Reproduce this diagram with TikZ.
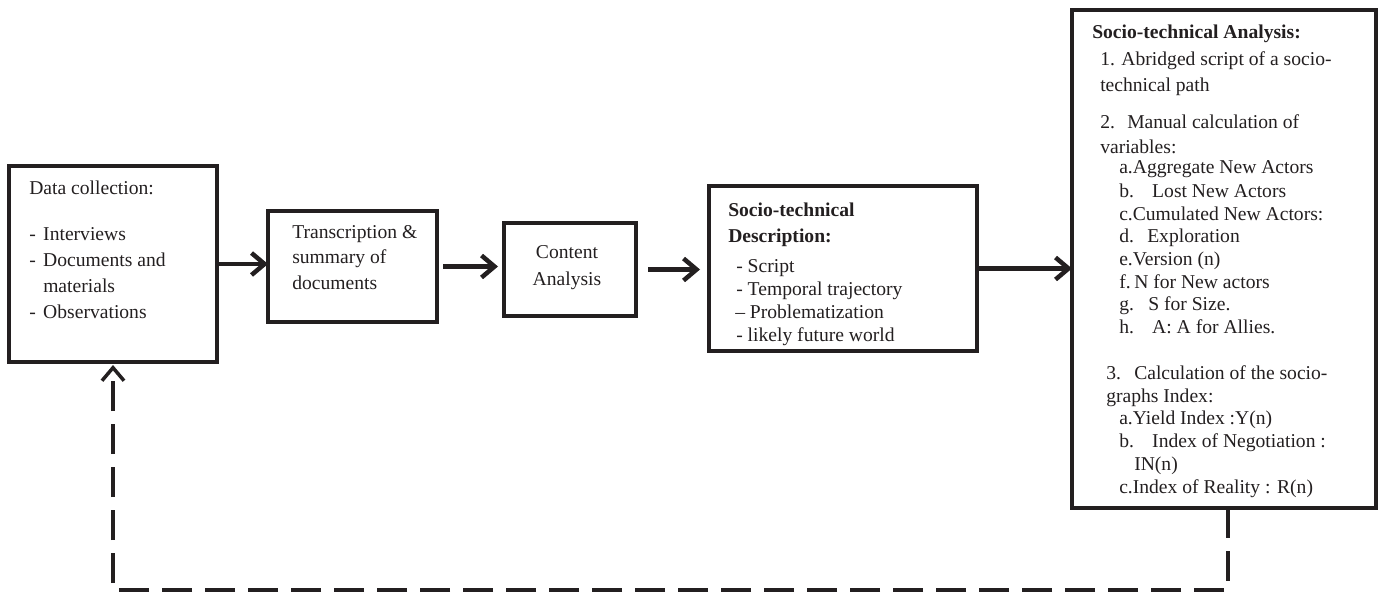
\documentclass[tikz,border=0pt]{standalone}
\usepackage{fontspec}
\setmainfont{Liberation Serif}
\usepackage{tikz}
\usetikzlibrary{arrows.meta,positioning}
\definecolor{ink}{HTML}{231F20}
\newcommand{\lab}[2]{\makebox[#1pt][l]{#2}}

\begin{document}
\begin{tikzpicture}[x=1pt,y=-1pt,->,>={Straight Barb[length=13pt,width=22pt]},
                    line width=4.5pt,color=ink]
  \tikzstyle{box}=[draw=ink,line width=3.5pt,rectangle,inner sep=0pt,outer sep=0pt]
  \tikzstyle{txt}=[inner sep=0pt,align=left,text=ink,anchor=base west]
  \useasboundingbox (0,0) rectangle (1379,594);

  \node[box,minimum width=208pt,minimum height=196pt] (DC) at (113,264) {};
  \node[box,minimum width=169pt,minimum height=111pt] (TS)
       [right=51pt of DC,yshift=-2.5pt] {};
  \node[box,minimum width=132pt,minimum height=93pt]  (CA)
       [right=67pt of TS,yshift=-3pt] {};
  \node[box,minimum width=268pt,minimum height=165pt] (DE)
       [right=73pt of CA,yshift=1pt] {};
  \node[box,minimum width=304pt,minimum height=498pt] (AN)
       [right=95pt of DE,yshift=9.5pt] {};

  % texts are placed by the baseline of their last line
  \node[txt,font=\fontsize{19.6}{26}\selectfont] (DCtext) at (27,318)
  {Data collection:\\[20pt]
   \lab{14}{-}Interviews\\
   \lab{14}{-}Documents and\\
   \hspace*{14pt}materials\\
   \lab{14}{-}Observations};
  \node[txt,font=\fontsize{19.6}{25.5}\selectfont] (TStext) at (290,289)
  {Transcription \&\\ summary of\\ documents};
  \node[txt,anchor=base,align=center,font=\fontsize{19.6}{27}\selectfont]
       (CAtext) at (567,285) {Content\\ Analysis};
  \node[txt,font=\fontsize{19.6}{23}\selectfont] (DEtext) at (726,341)
  {\textbf{Socio-technical}\\[3.5pt]
   \textbf{Description:}\\[6.5pt]
   \hspace*{8pt}- Script\\
   \hspace*{8pt}- Temporal trajectory\\
   \hspace*{7pt}-- Problematization\\
   \hspace*{8pt}- likely future world};
  \node[txt,font=\fontsize{19.6}{22.7}\selectfont] (ANtext) at (1090,493)
  {\textbf{Socio-technical Analysis:}\\[4.3pt]
   \hspace*{8pt}1. Abridged script of a socio-\\[3.3pt]
   \hspace*{8pt}technical path\\[14.3pt]
   \hspace*{8pt}\lab{27}{2.}Manual calculation of\\[2.3pt]
   \hspace*{8pt}variables:\\[-2.7pt]
   \hspace*{27pt}a.Aggregate New Actors\\[1.3pt]
   \hspace*{27pt}\lab{33}{b.}Lost New Actors\\
   \hspace*{27pt}c.Cumulated New Actors:\\
   \hspace*{27pt}\lab{28}{d.}Exploration\\
   \hspace*{27pt}e.Version (n)\\
   \hspace*{27pt}\lab{15}{f.}N for New actors\\
   \hspace*{27pt}\lab{29}{g.}S for Size.\\
   \hspace*{27pt}\lab{33}{h.}A: A for Allies.\\[23.3pt]
   \hspace*{14pt}\lab{28}{3.}Calculation of the socio-\\
   \hspace*{14pt}graphs Index:\\
   \hspace*{27pt}a.Yield Index :Y(n)\\
   \hspace*{27pt}\lab{33}{b.}Index of Negotiation :\\
   \hspace*{42pt}IN(n)\\
   \hspace*{27pt}c.Index of Reality : R(n)};

  % flow of the analysis
  \path (DC.east) edge (DC.east -| TS.west)
        (TS.east) edge [shorten <=6pt,shorten >=6pt] (TS.east -| CA.west)
        (CA.east) edge [shorten <=12pt,shorten >=9pt] (CA.east -| DE.west)
        (DE.east) edge (DE.east -| AN.west);

  % feedback loop
  \draw[dash pattern=on 30pt off 13pt,line width=3.5pt]
       ([xshift=4pt]AN.south) -- ++(0,82) -| ([yshift=-3pt]DC.south);
\end{tikzpicture}
\end{document}
